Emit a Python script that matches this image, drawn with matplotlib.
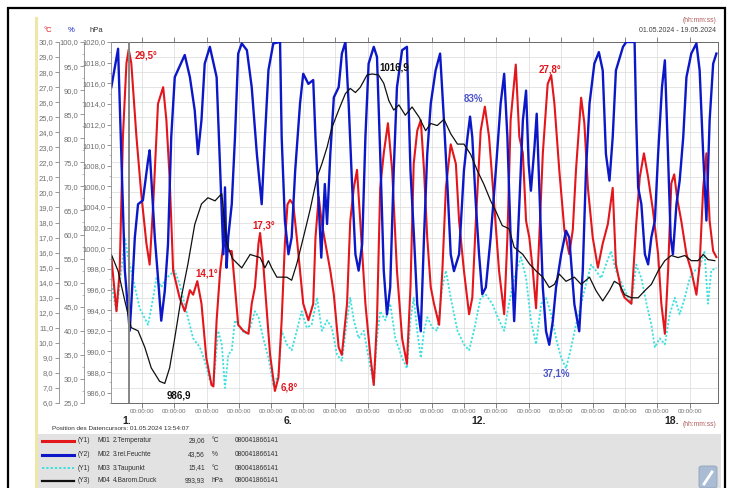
import numpy as np
import matplotlib
matplotlib.use("Agg")
import matplotlib.pyplot as plt
import matplotlib.ticker as mticker
from matplotlib.lines import Line2D
from matplotlib.patches import Rectangle, FancyBboxPatch

W, H = 731, 488
plt.rcParams['font.family'] = ['Liberation Sans', 'DejaVu Sans']

# time in days since 01.05.2024 00:00, value
temperatur = [
    (0.04, 15.7), (0.20, 12.1), (0.30, 14.8), (0.40, 23.7), (0.51, 28.6), (0.58, 29.5), (0.66, 28.6), (0.82, 23.7), (0.97, 19.9), (1.13, 16.6),
    (1.23, 15.2), (1.34, 19.2), (1.49, 25.9), (1.65, 27.0), (1.75, 24.8), (1.85, 21.0), (1.96, 14.8), (2.16, 13.0), (2.32, 12.1), (2.48, 13.5),
    (2.58, 13.2), (2.71, 14.1), (2.84, 12.6), (2.99, 9.0), (3.15, 7.2), (3.21, 7.1), (3.31, 11.5), (3.42, 14.8), (3.52, 16.6), (3.67, 16.1),
    (3.78, 16.1), (3.88, 13.7), (3.98, 11.2), (4.14, 10.8), (4.30, 10.6), (4.40, 12.6), (4.50, 13.7), (4.61, 16.6), (4.66, 17.3), (4.76, 15.2),
    (4.87, 12.1), (4.97, 9.2), (5.12, 6.8), (5.23, 7.7), (5.33, 11.5), (5.43, 16.6), (5.51, 19.2), (5.59, 19.5), (5.69, 19.2), (5.80, 17.0),
    (5.90, 14.8), (6.00, 12.6), (6.16, 11.5), (6.31, 12.6), (6.38, 17.0), (6.48, 19.7), (6.58, 17.9), (6.69, 16.6), (6.84, 14.8), (6.95, 13.2),
    (7.10, 9.7), (7.20, 9.2), (7.36, 12.6), (7.46, 18.1), (7.57, 20.3), (7.67, 21.5), (7.77, 18.1), (7.93, 12.6), (8.08, 9.2), (8.19, 7.2),
    (8.29, 11.5), (8.39, 20.3), (8.50, 22.6), (8.63, 24.6), (8.76, 21.5), (8.91, 14.8), (9.07, 10.3), (9.22, 8.6), (9.33, 13.7), (9.43, 21.9),
    (9.54, 24.1), (9.65, 24.8), (9.75, 21.5), (9.85, 17.0), (9.96, 13.7), (10.06, 12.6), (10.22, 11.2), (10.32, 14.8), (10.43, 20.3), (10.58, 23.2),
    (10.74, 21.9), (10.84, 18.1), (10.99, 14.8), (11.15, 11.9), (11.25, 13.0), (11.36, 18.1), (11.51, 24.1), (11.64, 25.7), (11.77, 23.7), (11.93, 19.2),
    (12.08, 14.8), (12.24, 11.9), (12.34, 17.0), (12.44, 24.8), (12.60, 28.5), (12.71, 23.7), (12.82, 22.6), (12.92, 18.1), (13.02, 17.0), (13.13, 14.8),
    (13.23, 12.3), (13.33, 17.0), (13.44, 22.6), (13.59, 27.2), (13.70, 27.8), (13.80, 25.9), (13.95, 21.5), (14.11, 17.5), (14.26, 15.9), (14.37, 17.5),
    (14.47, 21.5), (14.63, 26.3), (14.73, 24.6), (14.84, 20.3), (14.99, 17.0), (15.15, 15.0), (15.30, 16.6), (15.46, 17.9), (15.61, 20.3), (15.71, 15.2),
    (15.88, 13.5), (15.98, 13.0), (16.19, 12.6), (16.34, 17.9), (16.45, 21.0), (16.58, 22.6), (16.71, 21.0), (16.86, 18.8), (17.02, 15.9), (17.12, 12.6),
    (17.23, 10.6), (17.33, 14.8), (17.43, 20.6), (17.52, 21.2), (17.62, 19.5), (17.74, 18.1), (17.90, 15.9), (18.05, 14.8), (18.21, 13.2), (18.31, 15.2),
    (18.42, 20.3), (18.52, 22.6), (18.62, 18.1), (18.73, 16.1), (18.83, 15.7),
]

feuchte = [
    (0.04, 90.6), (0.25, 98.6), (0.35, 76.7), (0.46, 52.5), (0.61, 40.0), (0.66, 45.5), (0.77, 59.4), (0.87, 66.3), (1.02, 67.1), (1.18, 75.4),
    (1.23, 77.5), (1.28, 71.9), (1.39, 59.4), (1.49, 51.0), (1.59, 42.1), (1.70, 48.3), (1.80, 57.9), (1.90, 80.2), (2.01, 92.7), (2.11, 94.2),
    (2.32, 97.3), (2.48, 92.7), (2.63, 85.8), (2.73, 76.7), (2.84, 83.8), (2.94, 95.5), (3.10, 99.0), (3.31, 92.7), (3.42, 73.3), (3.52, 55.9),
    (3.57, 69.8), (3.62, 53.1), (3.67, 59.4), (3.78, 66.3), (3.88, 80.2), (3.98, 97.6), (4.09, 99.7), (4.25, 98.3), (4.40, 90.6), (4.56, 76.7),
    (4.71, 66.3), (4.81, 80.2), (4.92, 94.2), (5.07, 99.7), (5.28, 100.0), (5.33, 80.2), (5.43, 62.9), (5.54, 55.9), (5.64, 59.4), (5.75, 73.3),
    (5.90, 87.2), (6.00, 93.4), (6.16, 91.3), (6.31, 92.1), (6.38, 80.2), (6.48, 66.3), (6.56, 55.2), (6.67, 70.5), (6.74, 62.2), (6.84, 76.7),
    (6.95, 88.5), (7.10, 90.6), (7.20, 97.6), (7.31, 100.0), (7.41, 87.2), (7.52, 69.8), (7.62, 55.9), (7.72, 52.5), (7.83, 58.0), (7.93, 80.2),
    (8.03, 95.5), (8.19, 99.0), (8.29, 96.9), (8.39, 76.7), (8.50, 52.5), (8.60, 43.4), (8.70, 49.0), (8.81, 73.3), (8.91, 90.6), (9.07, 98.3),
    (9.22, 99.0), (9.33, 73.3), (9.44, 59.4), (9.54, 45.5), (9.65, 39.9), (9.75, 59.4), (9.85, 76.7), (9.96, 87.2), (10.11, 94.1), (10.25, 97.6),
    (10.37, 83.7), (10.48, 69.8), (10.58, 55.9), (10.68, 52.4), (10.84, 55.9), (10.99, 73.3), (11.10, 80.2), (11.18, 84.5), (11.25, 80.2), (11.36, 66.3),
    (11.46, 55.9), (11.56, 47.6), (11.67, 49.0), (11.82, 59.4), (11.98, 73.3), (12.13, 87.2), (12.24, 93.4), (12.34, 80.2), (12.44, 59.4), (12.55, 42.0),
    (12.71, 66.3), (12.82, 83.7), (12.92, 89.9), (13.00, 74.7), (13.07, 69.1), (13.18, 78.1), (13.25, 85.1), (13.33, 69.8), (13.44, 49.0), (13.54, 39.9),
    (13.64, 37.1), (13.75, 42.0), (13.85, 49.0), (14.01, 55.9), (14.16, 60.8), (14.26, 59.4), (14.42, 45.5), (14.57, 39.9), (14.68, 52.4), (14.78, 73.3),
    (14.89, 87.2), (15.04, 95.5), (15.18, 97.9), (15.30, 94.1), (15.40, 76.7), (15.51, 71.2), (15.61, 80.2), (15.71, 94.1), (15.93, 99.0), (16.03, 100.0),
    (16.29, 100.0), (16.34, 83.7), (16.40, 69.8), (16.50, 66.3), (16.61, 55.9), (16.71, 53.8), (16.81, 59.4), (16.92, 62.9), (17.02, 76.7), (17.14, 90.6),
    (17.23, 96.2), (17.31, 80.2), (17.41, 59.4), (17.48, 55.9), (17.59, 66.3), (17.69, 71.2), (17.80, 80.2), (17.90, 92.7), (18.05, 97.6), (18.21, 99.7),
    (18.31, 94.1), (18.42, 76.7), (18.52, 62.9), (18.62, 83.7), (18.73, 95.5), (18.83, 97.6),
]

taupunkt = [
    (0.04, 13.9), (0.20, 12.1), (0.35, 14.8), (0.46, 17.0), (0.56, 15.7), (0.71, 14.3), (0.92, 12.3), (1.18, 11.2), (1.34, 13.0), (1.44, 14.3),
    (1.59, 13.7), (1.75, 14.3), (2.01, 14.8), (2.16, 13.9), (2.37, 12.1), (2.58, 10.3), (2.79, 9.7), (2.94, 8.8), (3.10, 7.5), (3.21, 7.2),
    (3.36, 10.8), (3.47, 9.9), (3.57, 7.0), (3.67, 9.2), (3.78, 9.5), (3.88, 11.5), (4.04, 11.0), (4.19, 10.6), (4.35, 11.0), (4.50, 12.1),
    (4.61, 11.7), (4.76, 10.3), (4.92, 9.0), (5.07, 7.2), (5.23, 7.9), (5.33, 10.8), (5.49, 9.9), (5.64, 9.5), (5.80, 10.8), (5.95, 12.1),
    (6.11, 11.0), (6.26, 11.2), (6.43, 13.0), (6.58, 10.8), (6.74, 11.5), (6.89, 11.0), (7.05, 9.2), (7.20, 8.8), (7.36, 11.5), (7.46, 13.0),
    (7.57, 11.5), (7.72, 10.3), (7.88, 10.8), (8.03, 9.0), (8.19, 7.2), (8.29, 10.3), (8.39, 12.1), (8.55, 11.5), (8.70, 12.6), (8.86, 10.3),
    (9.07, 9.0), (9.22, 8.3), (9.33, 11.5), (9.43, 13.0), (9.54, 10.8), (9.65, 9.0), (9.75, 10.8), (9.85, 11.7), (10.01, 11.0), (10.16, 10.8),
    (10.32, 13.7), (10.43, 14.8), (10.58, 13.0), (10.79, 10.8), (10.99, 9.9), (11.15, 9.5), (11.30, 10.8), (11.51, 13.0), (11.67, 13.2), (11.87, 12.6),
    (12.08, 11.5), (12.24, 10.8), (12.39, 12.6), (12.55, 14.3), (12.76, 15.7), (12.92, 14.3), (13.07, 11.5), (13.23, 9.9), (13.39, 12.6), (13.54, 13.0),
    (13.70, 11.9), (13.85, 10.3), (14.01, 9.0), (14.16, 8.3), (14.32, 9.7), (14.47, 11.2), (14.63, 12.6), (14.78, 13.9), (14.94, 15.2), (15.09, 14.8),
    (15.25, 14.3), (15.40, 15.2), (15.56, 16.1), (15.71, 14.8), (15.98, 13.5), (16.19, 12.6), (16.34, 15.2), (16.50, 14.3), (16.66, 12.6), (16.81, 11.2),
    (16.92, 9.7), (17.07, 10.3), (17.23, 9.9), (17.38, 11.9), (17.54, 13.0), (17.69, 11.9), (17.85, 13.0), (18.00, 14.3), (18.16, 14.8), (18.31, 15.0),
    (18.46, 16.1), (18.57, 12.6), (18.67, 14.8), (18.83, 15.0),
]

druck = [
    (0.04, 999.4), (0.25, 997.8), (0.46, 994.9), (0.66, 992.3), (0.87, 992.0), (1.08, 990.4), (1.28, 988.4), (1.54, 987.1), (1.70, 986.9), (1.85, 988.4),
    (2.01, 991.3), (2.21, 995.2), (2.42, 998.5), (2.63, 1002.3), (2.84, 1004.3), (3.04, 1004.9), (3.26, 1004.6), (3.47, 1005.3), (3.62, 1000.5), (3.80, 999.0),
    (4.09, 998.1), (4.35, 999.4), (4.66, 999.1), (4.81, 998.1), (4.92, 998.8), (5.02, 998.1), (5.18, 997.2), (5.49, 997.2), (5.64, 996.9), (5.80, 998.5),
    (6.00, 1001.0), (6.21, 1003.7), (6.43, 1006.9), (6.58, 1008.2), (6.74, 1009.8), (6.89, 1011.7), (7.10, 1013.4), (7.31, 1015.0), (7.46, 1015.5), (7.62, 1015.1),
    (7.77, 1015.6), (7.98, 1016.8), (8.14, 1016.9), (8.34, 1016.8), (8.50, 1016.0), (8.66, 1014.3), (8.81, 1013.4), (8.97, 1013.9), (9.17, 1012.9), (9.38, 1013.7),
    (9.60, 1012.7), (9.80, 1011.4), (9.96, 1012.1), (10.16, 1011.9), (10.37, 1012.5), (10.58, 1011.1), (10.79, 1010.1), (10.99, 1010.1), (11.20, 1009.1), (11.41, 1007.5),
    (11.61, 1006.2), (11.82, 1004.6), (11.98, 1003.6), (12.18, 1002.2), (12.39, 1001.9), (12.55, 1000.1), (12.82, 999.4), (13.02, 998.5), (13.23, 997.8), (13.44, 997.2),
    (13.64, 996.2), (13.80, 996.5), (13.95, 997.5), (14.16, 996.8), (14.42, 997.2), (14.63, 996.5), (14.89, 997.2), (15.09, 995.9), (15.30, 994.9), (15.51, 995.9),
    (15.66, 996.8), (15.82, 996.5), (15.98, 995.5), (16.19, 995.2), (16.40, 995.2), (16.61, 995.9), (16.81, 996.5), (17.02, 997.8), (17.23, 998.8), (17.43, 999.3),
    (17.64, 999.1), (17.85, 999.3), (18.05, 998.8), (18.26, 998.8), (18.42, 999.4), (18.57, 998.9), (18.78, 998.8),
]

cursor_t = 0.58  # 01.05.2024 13:54:07
day_labels = [1, 6, 12, 18]

legend_axis = ['(Y1)', '(Y2)', '(Y1)', '(Y3)']
legend_ids = ['M01', 'M02', 'M03', 'M04']
legend_names = ['2.Temperatur', '3.rel.Feuchte', '3.Taupunkt', '4.Barom.Druck']
legend_values = ['29,06', '43,56', '15,41', '993,93']
legend_units = ['°C', '%', '°C', 'hPa']
legend_serial = '080041866141'

RED = '#e3161c'
BLUE = '#0c18c8'
CYAN = '#3fe0e0'
BLACK = '#101010'


def fx(x):
    return x / W


def fy(y):
    return 1 - y / H


def comma(fmt):
    return mticker.FuncFormatter(lambda v, p: format(v, fmt).replace('.', ','))


fig = plt.figure(figsize=(W / 100, H / 100), dpi=100)

# panel decoration
fig.add_artist(Rectangle((fx(8), fy(496)), fx(725) - fx(8), fy(8) - fy(496), transform=fig.transFigure,
                         fill=False, ec='black', lw=1.6))
fig.add_artist(Line2D([fx(35.5), fx(35.5)], [fy(18), fy(488)], transform=fig.transFigure, color='#efe7a6', lw=2.2))
fig.add_artist(Rectangle((fx(37), fy(488)), fx(721) - fx(37), fy(434) - fy(488), transform=fig.transFigure,
                         fc='#e2e2e2', ec='none'))

ax = fig.add_axes([fx(111), fy(403), fx(718) - fx(111), fy(42) - fy(403)])
ax2 = ax.twinx()
ax3 = ax.twinx()

t, v = zip(*temperatur)
ax.plot(t, v, color=RED, lw=1.5, zorder=3)
t, v = zip(*taupunkt)
ax.plot(t, v, color=CYAN, lw=1.3, ls=(0, (1.2, 1.0)), zorder=2)
t, v = zip(*feuchte)
ax2.plot(t, v, color=BLUE, lw=1.7)
t, v = zip(*druck)
ax3.plot(t, v, color=BLACK, lw=0.9)
ax3.axvline(cursor_t, color='#858585', lw=1.4)

ax.set_xlim(0.03, 18.88)
ax.set_ylim(6, 30)
ax2.set_ylim(25, 100)
ax3.set_ylim(985, 1020)

ax.set_yticks(np.arange(6, 31, 1))
ax2.set_yticks(np.arange(25, 101, 5))
ax2.yaxis.set_minor_locator(mticker.MultipleLocator(2.5))
ax3.set_yticks(np.arange(986, 1021, 2))
ax3.yaxis.set_minor_locator(mticker.MultipleLocator(1))
for a in (ax, ax2, ax3):
    a.yaxis.set_major_formatter(comma('.1f'))

ax.set_xticks(np.arange(1, 19))
ax.set_xticklabels(['00:00:00'] * 18)

ax.set_axisbelow(True)
ax.grid(True, color='#dadada', lw=0.5)

for a in (ax2, ax3):
    a.yaxis.set_ticks_position('left')
    a.yaxis.set_label_position('left')
    for s in ('top', 'right', 'bottom'):
        a.spines[s].set_visible(False)
ax.spines['left'].set_position(('axes', -0.0857))
ax2.spines['left'].set_position(('axes', -0.0445))
for a in (ax, ax2, ax3):
    a.spines['left'].set_color('#8a8a8a')
    a.spines['left'].set_linewidth(0.6)
    a.tick_params(axis='y', which='major', length=3, width=0.5, pad=1, labelsize=5.5,
                  colors='#6f6f6f', direction='out')
    a.tick_params(axis='y', which='minor', length=1.6, width=0.4, colors='#8a8a8a', direction='out')
for s in ('top', 'right', 'bottom'):
    ax.spines[s].set_color('#6a6a6a')
    ax.spines[s].set_linewidth(0.7)
ax.tick_params(axis='x', which='major', length=3.5, width=0.6, pad=0.5, labelsize=4.5,
               color='#6f6f6f', labelcolor='#6f6f6f', top=True, direction='out')

# day numbers sit left of their midnight tick, just under the time labels
for n in day_labels:
    ax.annotate(f'{n}.', xy=(n, 0), xycoords=('data', 'axes fraction'), xytext=(-11, -13),
                textcoords='offset pixels', ha='right', va='top', fontsize=7.5,
                fontweight='bold', color='#222222', annotation_clip=False)

# value labels
marks = [('29,5°', 146, 55, RED), ('14,1°', 207, 273, RED), ('17,3°', 264, 225, RED),
         ('6,8°', 289, 387, RED), ('27,8°', 550, 70, RED), ('986,9', 179, 396, BLACK),
         ('1016,9', 394, 67, BLACK), ('83%', 473, 99, '#4b55c8'), ('37,1%', 556, 374, '#4b55c8')]
for txt, x, y, c in marks:
    fig.text(fx(x), fy(y), txt, color=c, fontsize=7, fontweight='bold', ha='center', va='center')

fig.text(fx(48), fy(31), '°C', color=RED, fontsize=5.5, ha='center', va='center')
fig.text(fx(71), fy(31), '%', color=BLUE, fontsize=5.5, ha='center', va='center')
fig.text(fx(96), fy(31), 'hPa', color='#303030', fontsize=5.5, ha='center', va='center')
fig.text(fx(716), fy(20), '(hh:mm:ss)', color='#b05a5a', fontsize=4.8, ha='right', va='center')
fig.text(fx(716), fy(31), '01.05.2024 - 19.05.2024', color='#404040', fontsize=5, ha='right', va='center')
fig.text(fx(716), fy(425), '(hh:mm:ss)', color='#b05a5a', fontsize=4.8, ha='right', va='center')
fig.text(fx(52), fy(429), 'Position des Datencursors: 01.05.2024 13:54:07', color='#303030',
         fontsize=4.6, ha='left', va='center')

# legend table
styles = [dict(color=RED, lw=2.2), dict(color=BLUE, lw=2.2), dict(color=CYAN, lw=1.4, ls=(0, (1.2, 1.0))),
          dict(color=BLACK, lw=1.6)]
rows_y = [441, 455, 468, 481]
for i, y in enumerate(rows_y):
    fig.add_artist(Line2D([fx(42), fx(74)], [fy(y), fy(y)], transform=fig.transFigure, **styles[i]))
    kw = dict(fontsize=4.8, color='#303030', va='center')
    fig.text(fx(78), fy(y), legend_axis[i], ha='left', **kw)
    fig.text(fx(97), fy(y), legend_ids[i], ha='left', **kw)
    fig.text(fx(113), fy(y), legend_names[i], ha='left', **kw)
    fig.text(fx(205), fy(y), legend_values[i], ha='right', **kw)
    fig.text(fx(212), fy(y), legend_units[i], ha='left', **kw)
    fig.text(fx(235), fy(y), legend_serial, ha='left', **kw)

fig.add_artist(FancyBboxPatch((fx(699), fy(488)), fx(717) - fx(699), fy(466) - fy(488),
                              boxstyle='round,pad=0.0,rounding_size=0.004', transform=fig.transFigure,
                              fc='#a9bcd3', ec='#8fa3bd', lw=0.6))
fig.add_artist(Line2D([fx(704), fx(712)], [fy(484), fy(472)], transform=fig.transFigure, color='white', lw=2))

fig.savefig('out.png', dpi=100)
